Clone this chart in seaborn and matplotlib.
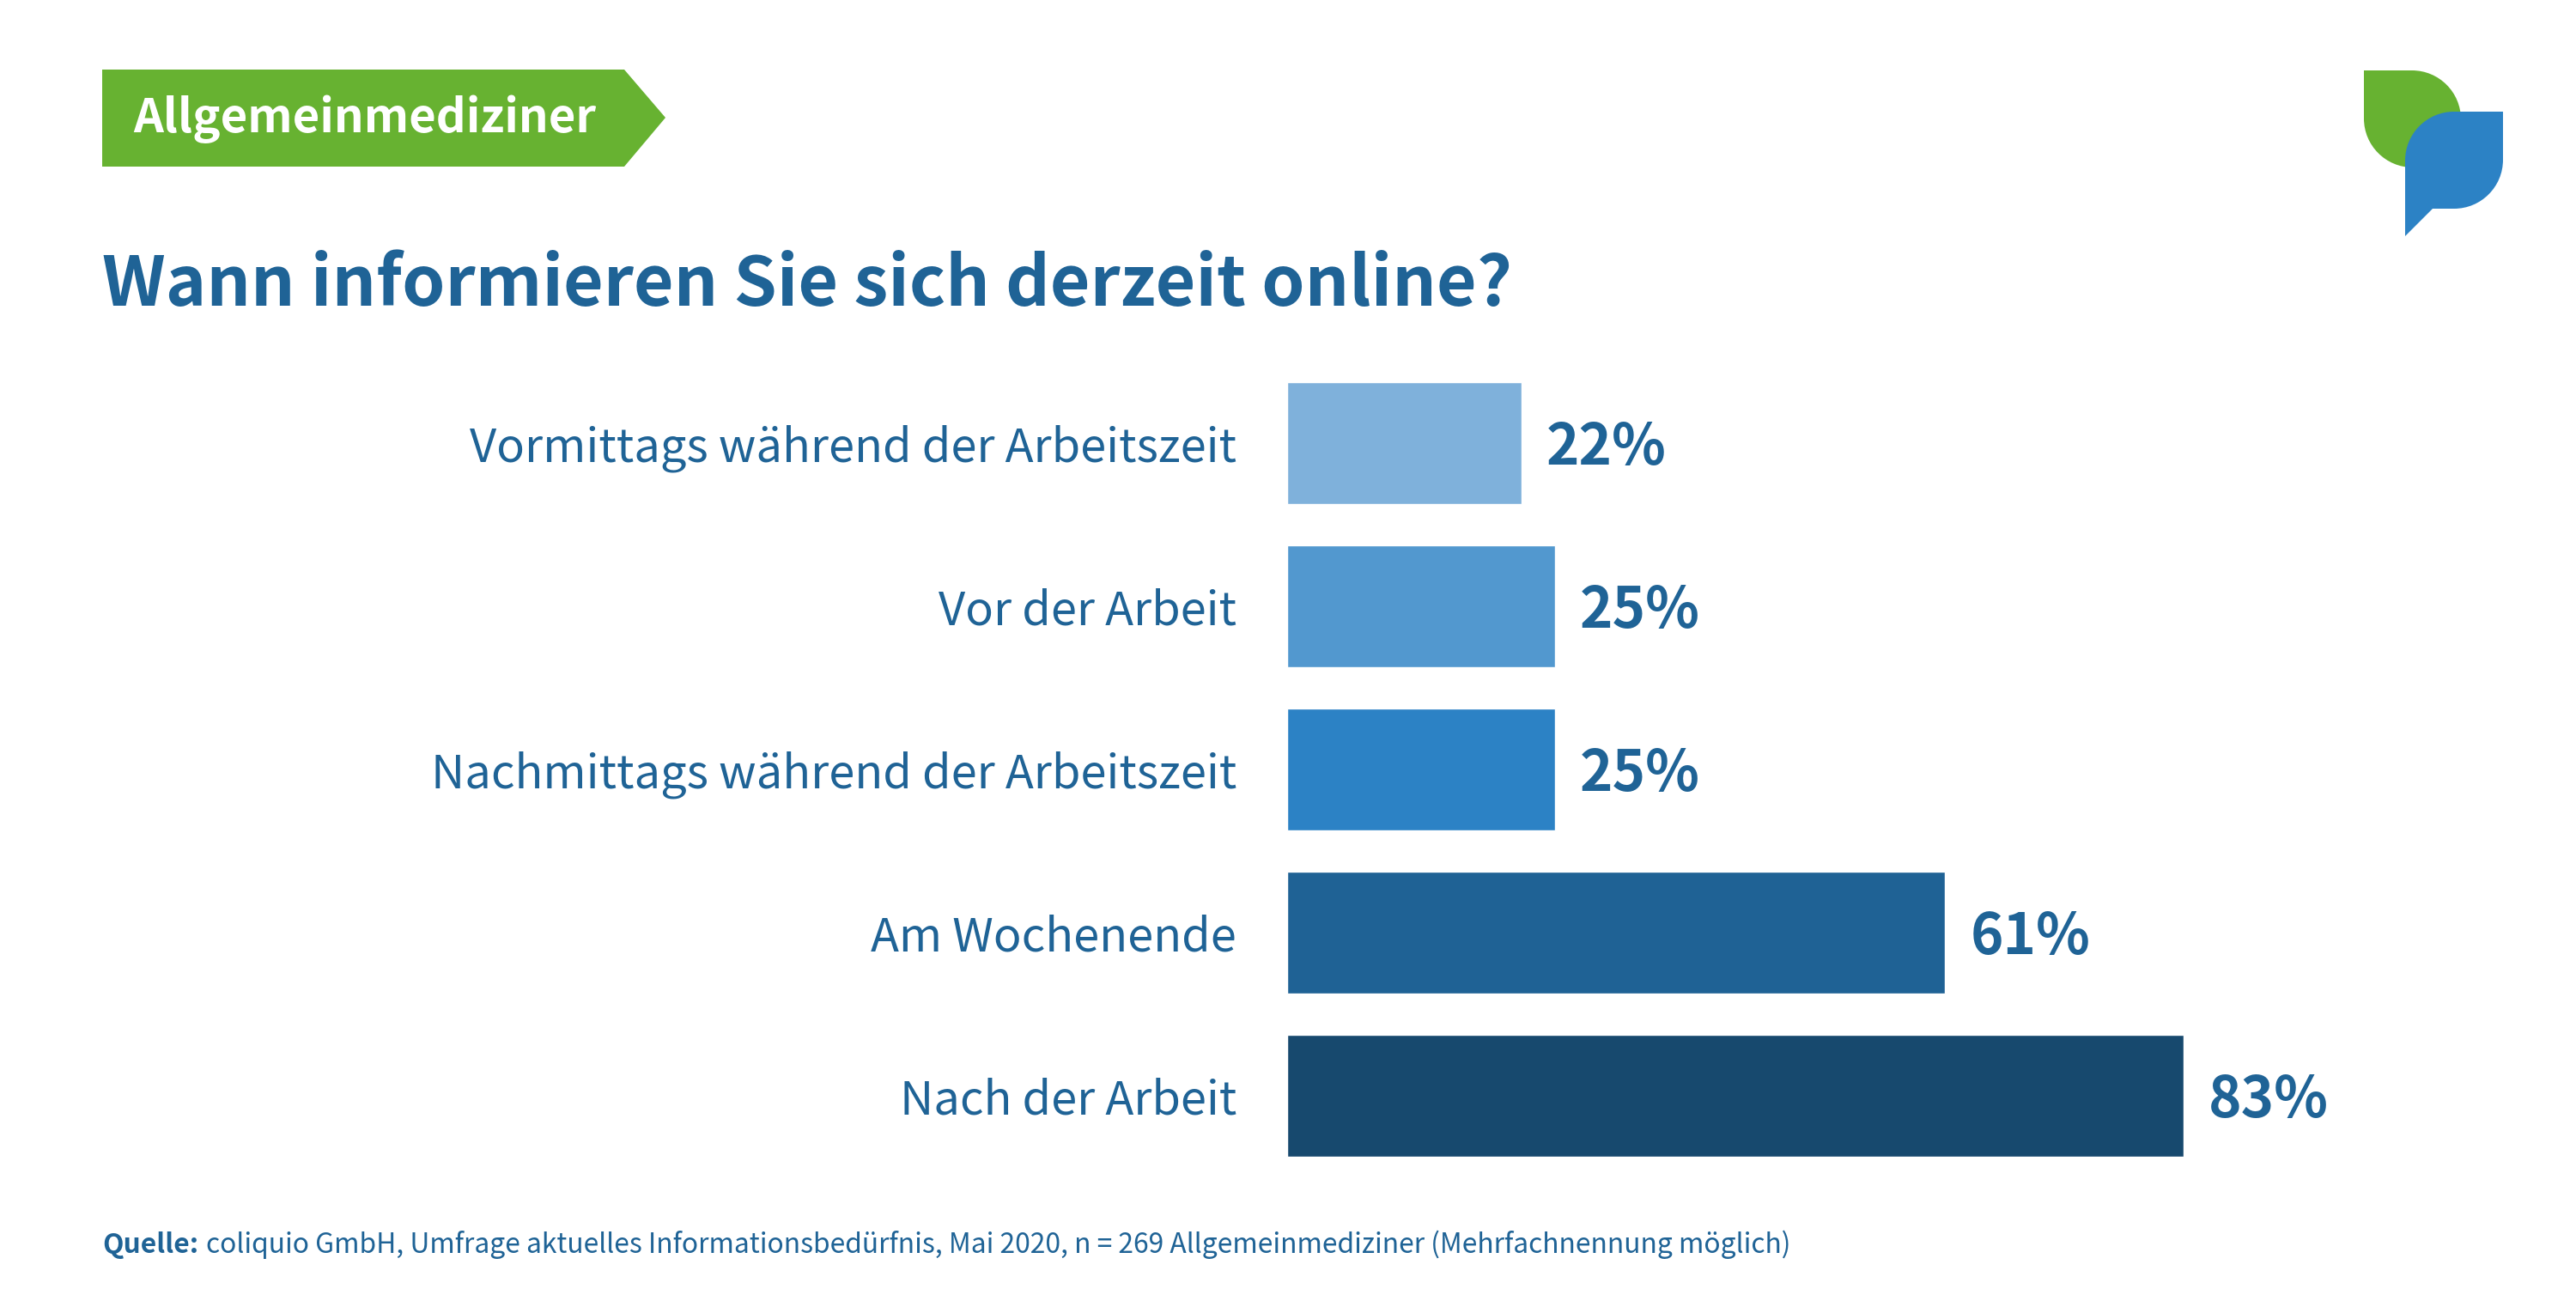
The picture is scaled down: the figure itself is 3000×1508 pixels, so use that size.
import matplotlib
matplotlib.use("Agg")
import matplotlib.pyplot as plt
from matplotlib.patches import Polygon, PathPatch
from matplotlib.path import Path
import seaborn as sns

categories = ["Vormittags während der Arbeitszeit", "Vor der Arbeit",
              "Nachmittags während der Arbeitszeit", "Am Wochenende", "Nach der Arbeit"]
values = [21.7, 24.8, 24.8, 60.9, 83.0]
value_labels = ["22%", "25%", "25%", "61%", "83%"]
bar_colors = ["#7FB1DB", "#5298CF", "#2C82C5", "#1F6295", "#17496E"]
title = "Wann informieren Sie sich derzeit online?"
banner = "Allgemeinmediziner"
source_bold = "Quelle:"
source_text = "coliquio GmbH, Umfrage aktuelles Informationsbedürfnis, Mai 2020, n = 269 Allgemeinmediziner (Mehrfachnennung möglich)"

TEXT = "#1F6396"
GREEN = "#67B231"
BLUE = "#2C82C5"
W, H = 3000, 1508

sns.set_theme(style="white")
plt.rcParams["font.family"] = ["Noto Sans CJK SC", "DejaVu Sans"]

fig = plt.figure(figsize=(W / 100, H / 100), dpi=100, facecolor="white")
ax = fig.add_axes([1499 / W, 1 - 1371 / H, 1258 / W, 950 / H])
sns.barplot(x=values, y=categories, hue=categories, palette=bar_colors, legend=False,
            width=0.745, saturation=1, ax=ax)
ax.set_xlim(0, 100)
sns.despine(ax=ax, left=True, bottom=True)
ax.set_xticks([])
ax.set_xlabel("")
ax.set_ylabel("")
ax.tick_params(axis="y", length=0, pad=42.3, labelsize=39, labelcolor=TEXT)
for c, lab in zip(ax.containers, value_labels):
    for a in ax.bar_label(c, labels=[lab], padding=21, fontsize=47, fontweight="bold", color=TEXT):
        a.xyann = (a.xyann[0], -4)

ov = fig.add_axes([0, 0, 1, 1], facecolor="none")
ov.set_xlim(0, W)
ov.set_ylim(H, 0)
ov.axis("off")

ov.add_patch(Polygon([(119, 81), (727, 81), (775, 137), (727, 194), (119, 194)],
                     closed=True, fc=GREEN, ec="none"))
ov.text(155, 154, banner, color="white", fontsize=39.2, fontweight="bold", va="baseline")
ov.text(119, 356, title, color=TEXT, fontsize=58, fontweight="bold", va="baseline")
ov.text(119, 1459, source_bold, color=TEXT, fontsize=22.9, fontweight="bold", va="baseline")
ov.text(240, 1459, source_text, color=TEXT, fontsize=22.9, va="baseline")

M, L, C = Path.MOVETO, Path.LINETO, Path.CURVE4
r = 57
k = 0.5523 * r
gx0, gx1, gy0, gy1 = 2753, 2866, 82, 195
green = Path([(gx0, gy0), (gx1 - r, gy0),
              (gx1 - r + k, gy0), (gx1, gy0 + r - k), (gx1, gy0 + r),
              (gx1, gy1), (gx0 + r, gy1),
              (gx0 + r - k, gy1), (gx0, gy1 - r + k), (gx0, gy1 - r),
              (gx0, gy0)],
             [M, L, C, C, C, L, L, C, C, C, L])
ov.add_patch(PathPatch(green, fc=GREEN, ec="none"))
bx0, bx1, by0, by1, tip = 2801, 2915, 130, 243, 275
blue = Path([(bx0 + r, by0), (bx1, by0), (bx1, by1 - r),
             (bx1, by1 - r + k), (bx1 - r + k, by1), (bx1 - r, by1),
             (bx0 + 32, by1), (bx0, tip), (bx0, by0 + r),
             (bx0, by0 + r - k), (bx0 + r - k, by0), (bx0 + r, by0)],
            [M, L, L, C, C, C, L, L, L, C, C, C])
ov.add_patch(PathPatch(blue, fc=BLUE, ec="none"))

fig.savefig("out.png", dpi=100, facecolor="white")
